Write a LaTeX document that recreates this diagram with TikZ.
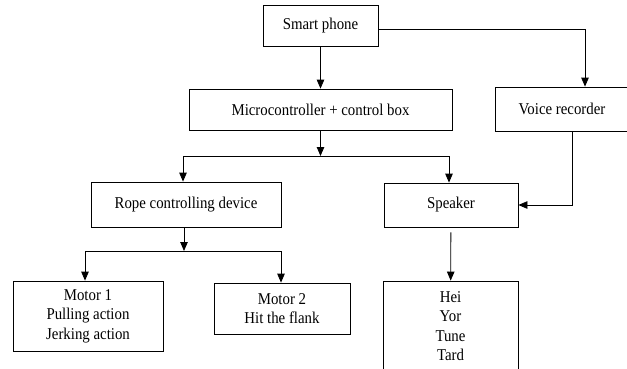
\documentclass[tikz,border=0pt]{standalone}
\usepackage{fontspec}
\setmainfont{Liberation Serif}[FakeStretch=0.9]
\usetikzlibrary{arrows.meta, positioning, calc}

\begin{document}
\begin{tikzpicture}[
  x=1pt, y=-1pt,
  font=\fontsize{16.5}{19.5}\selectfont,
  >={Triangle[length=9pt, width=7.5pt]},
  box/.style={draw, line width=0.8pt, align=center, inner sep=2pt,
              minimum width=#1},
  link/.style={->, line width=0.8pt},
]
  \useasboundingbox (0,0) rectangle (627,368);
  \clip (0,0) rectangle (627,368);

  % --- boxes --------------------------------------------------------
  \node[box=115pt, minimum height=41pt] (phone) at (320.5,25.5) {Smart phone};
  \node[box=263pt, minimum height=41pt] (micro) at (320.5,109.5) {Microcontroller + control box};
  \node[box=134pt, minimum height=44pt] (voice) at (562,109) {Voice recorder};
  \node[box=190pt, minimum height=45pt] (rope) at (186,204.5) {Rope controlling device};
  \node[box=134pt, minimum height=44pt] (speaker) at (451,205) {Speaker};
  \node[box=150pt, minimum height=70pt] (motor1) at (88,316) {Motor 1\\Pulling action\\Jerking action};
  \node[box=136pt, minimum height=51pt] (motor2) at (282,308.5) {Motor 2\\Hit the flank};
  \node[box=135pt, minimum height=90pt] (sounds) at (450.5,326) {Hei\\Yor\\Tune\\Tard};

  % --- branch points ------------------------------------------------
  \coordinate (split1) at (320.5,156);
  \coordinate (split2) at (184,251);

  % --- connectors ---------------------------------------------------
  \draw[link] (phone) -- (micro);
  \draw[link] ([yshift=-4pt]phone.east) -| ([xshift=23pt]voice.north);

  \draw[link] (micro) -- (split1);
  \draw[link] (split1) -| ([xshift=-3pt]rope.north);
  \draw[link] (split1) -| ([xshift=-2pt]speaker.north);

  \draw[link] ([xshift=10pt]voice.south) |- (speaker.east);
  \draw[link, shorten <=5pt] (speaker) -- (sounds);

  \draw[link] ([xshift=-2pt]rope.south) -- (split2);
  \draw[link] (split2) -| ([xshift=-3pt]motor1.north);
  \draw[link] (split2) -| ([xshift=-1pt]motor2.north);
\end{tikzpicture}
\end{document}
